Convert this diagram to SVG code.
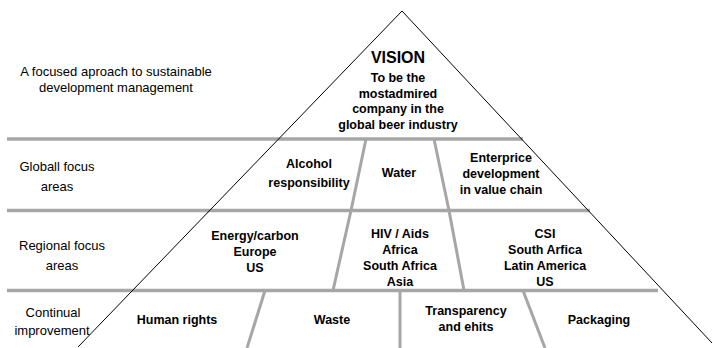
<svg xmlns="http://www.w3.org/2000/svg" width="713" height="348" viewBox="0 0 713 348">
  <style>
    .bar { stroke: #a6a6a6; stroke-width: 3.5; fill: none; }
    .div { stroke: #a6a6a6; stroke-width: 3; fill: none; }
    .edge { stroke: #000; stroke-width: 1; fill: none; }
    text { font-family: "Liberation Sans", Arial, sans-serif; fill: #000; text-anchor: middle; }
    .lbl { font-size: 13px; }
    .b { font-size: 12.5px; font-weight: bold; }
    .title { font-size: 16px; font-weight: bold; }
  </style>
  <rect width="713" height="348" fill="#fff"/>

  <!-- layer separators and cell dividers -->
  <g id="connectors">
    <line class="bar" x1="7" y1="139" x2="523" y2="139"/>
    <line class="bar" x1="7" y1="210.5" x2="590" y2="210.5"/>
    <line class="bar" x1="7" y1="290.5" x2="658" y2="290.5"/>

    <line class="div" x1="366" y1="139" x2="351" y2="210.5"/>
    <line class="div" x1="434" y1="139" x2="449" y2="210.5"/>
    <line class="div" x1="351" y1="210.5" x2="333" y2="290.5"/>
    <line class="div" x1="449" y1="210.5" x2="464" y2="290.5"/>
    <line class="div" x1="265" y1="290.5" x2="247" y2="348"/>
    <line class="div" x1="400" y1="290.5" x2="400" y2="348"/>
    <line class="div" x1="523" y1="290.5" x2="545" y2="348"/>

    <polyline class="edge" points="78,347 402,11 712,343"/>
  </g>

  <!-- left-hand level captions -->
  <g id="caption-top">
    <text class="lbl" x="116" y="76">A focused aproach to sustainable</text>
    <text class="lbl" x="116" y="92">development management</text>
  </g>
  <g id="caption-global">
    <text class="lbl" x="57" y="171">Globall focus</text>
    <text class="lbl" x="57" y="191">areas</text>
  </g>
  <g id="caption-regional">
    <text class="lbl" x="62" y="250">Regional focus</text>
    <text class="lbl" x="62" y="270">areas</text>
  </g>
  <g id="caption-continual">
    <text class="lbl" x="53" y="317">Continual</text>
    <text class="lbl" x="52" y="335">improvement</text>
  </g>

  <!-- apex -->
  <g id="vision">
    <text class="title" x="398" y="63">VISION</text>
    <text class="b" x="398" y="81.5">To be the</text>
    <text class="b" x="398" y="97.5">mostadmired</text>
    <text class="b" x="398" y="113">company in the</text>
    <text class="b" x="398" y="128.5">global beer industry</text>
  </g>

  <!-- global focus areas -->
  <g id="alcohol">
    <text class="b" x="309" y="168">Alcohol</text>
    <text class="b" x="309" y="187">responsibility</text>
  </g>
  <g id="water">
    <text class="b" x="399" y="177">Water</text>
  </g>
  <g id="enterprise">
    <text class="b" x="501" y="162">Enterprice</text>
    <text class="b" x="501" y="178">development</text>
    <text class="b" x="501" y="194">in value chain</text>
  </g>

  <!-- regional focus areas -->
  <g id="energy">
    <text class="b" x="255" y="240">Energy/carbon</text>
    <text class="b" x="255" y="256">Europe</text>
    <text class="b" x="255" y="272">US</text>
  </g>
  <g id="hiv">
    <text class="b" x="400" y="238">HIV / Aids</text>
    <text class="b" x="400" y="254">Africa</text>
    <text class="b" x="400" y="270">South Africa</text>
    <text class="b" x="400" y="286">Asia</text>
  </g>
  <g id="csi">
    <text class="b" x="545" y="238">CSI</text>
    <text class="b" x="545" y="254">South Arfica</text>
    <text class="b" x="545" y="270">Latin America</text>
    <text class="b" x="545" y="286">US</text>
  </g>

  <!-- continual improvement -->
  <g id="human-rights">
    <text class="b" x="177" y="324">Human rights</text>
  </g>
  <g id="waste">
    <text class="b" x="332" y="324">Waste</text>
  </g>
  <g id="transparency">
    <text class="b" x="466" y="315">Transparency</text>
    <text class="b" x="466" y="331">and ehits</text>
  </g>
  <g id="packaging">
    <text class="b" x="599" y="324">Packaging</text>
  </g>
</svg>
